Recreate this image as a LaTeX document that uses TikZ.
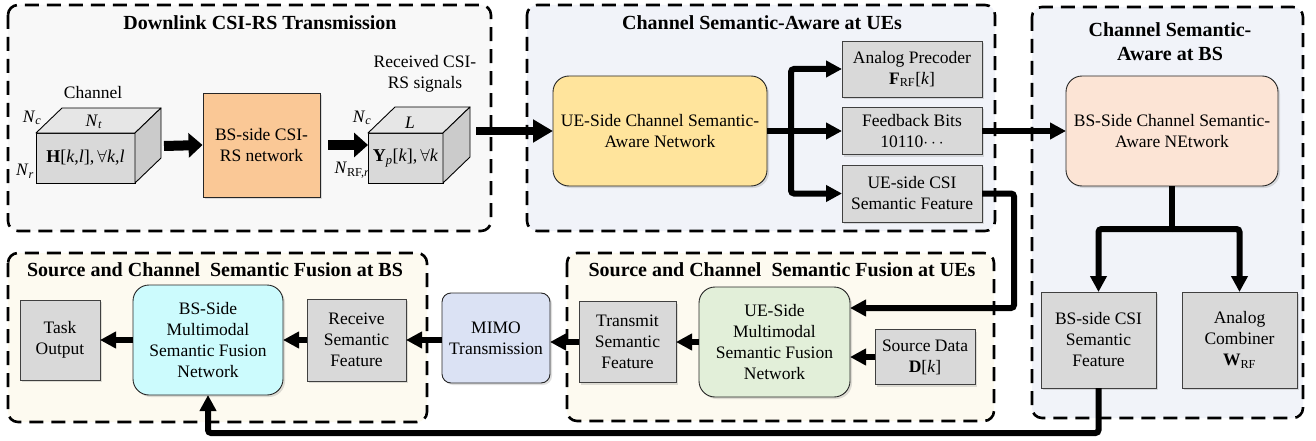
\documentclass[tikz,border=0pt]{standalone}
\usepackage{fontspec}
\setmainfont{Liberation Serif}
\usetikzlibrary{arrows.meta,shadows}
\definecolor{gOne}{HTML}{F8F8F8}
\definecolor{gTwo}{HTML}{F1F3F9}
\definecolor{gFour}{HTML}{FDFAF0}
\definecolor{cOrange}{HTML}{FAC896}
\definecolor{cYellow}{HTML}{FFE49C}
\definecolor{cPeach}{HTML}{FCE4D5}
\definecolor{cCyan}{HTML}{CCFBFD}
\definecolor{cGreen}{HTML}{E2EFD9}
\definecolor{cLav}{HTML}{DBE2F4}
\definecolor{cGray}{HTML}{D9D9D9}
\definecolor{cTop}{HTML}{E6E6E6}
\definecolor{cSide}{HTML}{CBCBCB}
\newcommand{\bodyfont}{\fontsize{17.5}{21}\selectfont}
\newcommand{\ttlfont}{\fontsize{20}{24}\selectfont\bfseries}
\begin{document}
\begin{tikzpicture}[x=1pt,y=-1pt,
  grp/.style={draw=black, line width=2.6pt, dash pattern=on 14pt off 8pt, rounded corners=10pt},
  ttl/.style={font=\ttlfont, align=center, inner sep=0pt},
  lbl/.style={font=\bodyfont, align=center, inner sep=0pt},
  graybox/.style={draw=black!75, line width=0.9pt, fill=cGray, font=\bodyfont, align=center, inner sep=1pt, outer sep=0pt,
    drop shadow={opacity=0.25, shadow xshift=2pt, shadow yshift=-2pt}},
  net/.style={draw=black!85, line width=0.9pt, rounded corners=16pt, font=\bodyfont, align=center, inner sep=1pt, outer sep=0pt,
    drop shadow={opacity=0.25, shadow xshift=2pt, shadow yshift=-2pt}},
  cubefront/.style={draw=black, line width=0.9pt, fill=cGray, font=\fontsize{18}{21}\selectfont, inner sep=0pt, outer sep=0pt},
  cubeline/.style={draw=black, line width=0.9pt, line join=round},
  conn/.style={line width=6pt, rounded corners=3pt, -{Triangle[length=16pt,width=16pt]}},
  plain/.style={line width=6pt},
  fat/.style={line width=10pt, -{Triangle[length=14pt,width=24pt]}},
  big/.style={line width=8pt, -{Triangle[length=20pt,width=22pt]}}
]
\useasboundingbox (0,0) rectangle (1316,441);

% ---------- group backgrounds ----------
\draw[grp, fill=gOne] (8,5) rectangle (491,231);
\draw[grp, fill=gTwo] (527,5) rectangle (995,231);
\draw[grp, fill=gTwo] (1032,7) rectangle (1303,418);
\draw[grp, fill=gFour] (8,253) rectangle (427,422);
\draw[grp, fill=gFour] (567,253) rectangle (994,421);

\node[ttl] (t1) at (260,23) {Downlink CSI-RS Transmission};
\node[ttl] (t2) at (762,23) {Channel Semantic-Aware at UEs};
\node[ttl] (t3) at (1170,42) {Channel Semantic-\\Aware at BS};
\node[ttl] (t4) at (215,270) {Source and Channel\ \ Semantic Fusion at BS};
\node[ttl] (t5) at (782,270) {Source and Channel\ \ Semantic Fusion at UEs};

% ---------- cube 1 (channel) ----------
\node[cubefront, minimum width=99pt, minimum height=50pt] (ch) at (85.5,158)
  {\textbf{H}[\textit{k},\textit{l}],\,$\forall$\textit{k},\textit{l}};
\draw[cubeline, fill=cTop] (ch.north west) -- ++(26,-25) -- ++(99,0) -- (ch.north east) -- cycle;
\draw[cubeline, fill=cSide] (ch.north east) -- ++(26,-25) -- ++(0,50) -- (ch.south east) -- cycle;
\node[lbl] (chl) at (93,93) {Channel};
\node[lbl] (nc1) at (32,118) {\textit{N}\textsubscript{\textit{c}}};
\node[lbl] (nt1) at (94,122) {\textit{N}\textsubscript{\textit{t}}};
\node[lbl] (nr1) at (25,171) {\textit{N}\textsubscript{\textit{r}}};
\coordinate (chr) at (164,146);

% ---------- BS-side CSI-RS network ----------
\node[draw=black!85, line width=0.9pt, fill=cOrange, font=\bodyfont, align=center, minimum width=117pt, minimum height=104pt, inner sep=1pt,
  drop shadow={opacity=0.25, shadow xshift=2pt, shadow yshift=-2pt}] (rsn) at (261.5,145) {BS-side CSI-\\RS network};

% ---------- cube 2 (received) ----------
\node[cubefront, minimum width=75pt, minimum height=50pt] (rc) at (405.5,158)
  {\textbf{Y}\textsubscript{\textit{p}}[\textit{k}],\,$\forall$\textit{k}};
\draw[cubeline, fill=cTop] (rc.north west) -- ++(27,-26) -- ++(75,0) -- (rc.north east) -- cycle;
\draw[cubeline, fill=cSide] (rc.north east) -- ++(27,-26) -- ++(0,50) -- (rc.south east) -- cycle;
\node[lbl] (rcl) at (425,74) {Received CSI-\\RS signals};
\node[lbl] (nc2) at (362,118) {\textit{N}\textsubscript{\textit{c}}};
\node[lbl] (ll) at (410,123) {\textit{L}};
\node[lbl] (nr2) at (352,170) {\textit{N}\textsubscript{RF,\textit{r}}};
\coordinate (rcr) at (476,131);
\coordinate (rsno) at (328,145);

\draw[fat] (chr) -- (rsn.west);
\draw[fat] (rsno) -- (rsno -| rc.west);

% ---------- UE side channel semantic ----------
\node[net, fill=cYellow, minimum width=214pt, minimum height=110pt] (uenet) at (660,131) {UE-Side Channel Semantic-\\Aware Network};
\node[graybox, minimum width=140pt, minimum height=56pt] (ap) at (912,69) {Analog Precoder\\\textbf{F}\textsubscript{RF}[\textit{k}]};
\node[graybox, minimum width=140pt, minimum height=47pt] (fb) at (912,131) {Feedback Bits\\10110$\cdots$};
\node[graybox, minimum width=140pt, minimum height=57pt] (uecsi) at (912,193.5) {UE-side CSI\\Semantic Feature};

\draw[big] (rcr) -- (uenet.west);
\coordinate (br) at (791,131);
\draw[conn] (uenet.east) -- (fb.west);
\draw[conn] (br) |- (ap.west);
\draw[conn] (br) |- (uecsi.west);

% ---------- BS side channel semantic ----------
\node[net, fill=cPeach, minimum width=212pt, minimum height=110pt] (bsnet) at (1172,131) {BS-Side Channel Semantic-\\Aware NEtwork};
\node[graybox, minimum width=115pt, minimum height=96pt] (bscsi) at (1098.5,340) {BS-side CSI\\Semantic\\Feature};
\node[graybox, minimum width=115pt, minimum height=96pt] (comb) at (1239.5,340) {Analog\\Combiner\\\textbf{W}\textsubscript{RF}};

\draw[conn] (fb.east) -- (bsnet.west);
\coordinate (bsbr) at (1172,229);
\draw[plain] (bsnet.south) -- (bsbr);
\draw[conn] (bsbr) -| (bscsi.north);
\draw[conn] (bsbr) -| (comb.north);

% ---------- UE fusion ----------
\node[net, fill=cGreen, minimum width=151pt, minimum height=110pt] (uefus) at (774.5,342) {UE-Side\\Multimodal\\Semantic Fusion\\Network};
\node[graybox, minimum width=97pt, minimum height=81pt] (tx) at (627.5,342) {Transmit\\Semantic\\Feature};
\node[graybox, minimum width=100pt, minimum height=55pt] (src) at (925,357) {Source Data\\\textbf{D}[\textit{k}]};
\node[net, fill=cLav, rounded corners=9pt, minimum width=108pt, minimum height=90pt] (mimo) at (496,338) {MIMO\\Transmission};

\coordinate (fbk) at (1014,308);
\draw[conn] (uecsi.east) -| (fbk) -- (fbk -| uefus.east);
\draw[conn] (src.west) -- (src.west -| uefus.east);
\draw[conn] (uefus.west) -- (tx.east);
\draw[conn] (tx.west) -- (tx.west -| mimo.east);

% ---------- BS fusion ----------
\node[graybox, minimum width=80pt, minimum height=80pt] (task) at (60,340) {Task\\Output};
\node[net, fill=cCyan, minimum width=150pt, minimum height=110pt] (bsfus) at (208,340) {BS-Side\\Multimodal\\Semantic Fusion\\Network};
\node[graybox, minimum width=99pt, minimum height=82pt] (rx) at (356.5,340) {Receive\\Semantic\\Feature};

\draw[conn] (mimo.west |- rx.east) -- (rx.east);
\draw[conn] (rx.west) -- (bsfus.east);
\draw[conn] (bsfus.west) -- (task.east);

\coordinate (btm) at (1098.5,433);
\draw[conn] (bscsi.south) -- (btm) -- (btm -| bsfus.south) -- (bsfus.south);
\end{tikzpicture}
\end{document}
